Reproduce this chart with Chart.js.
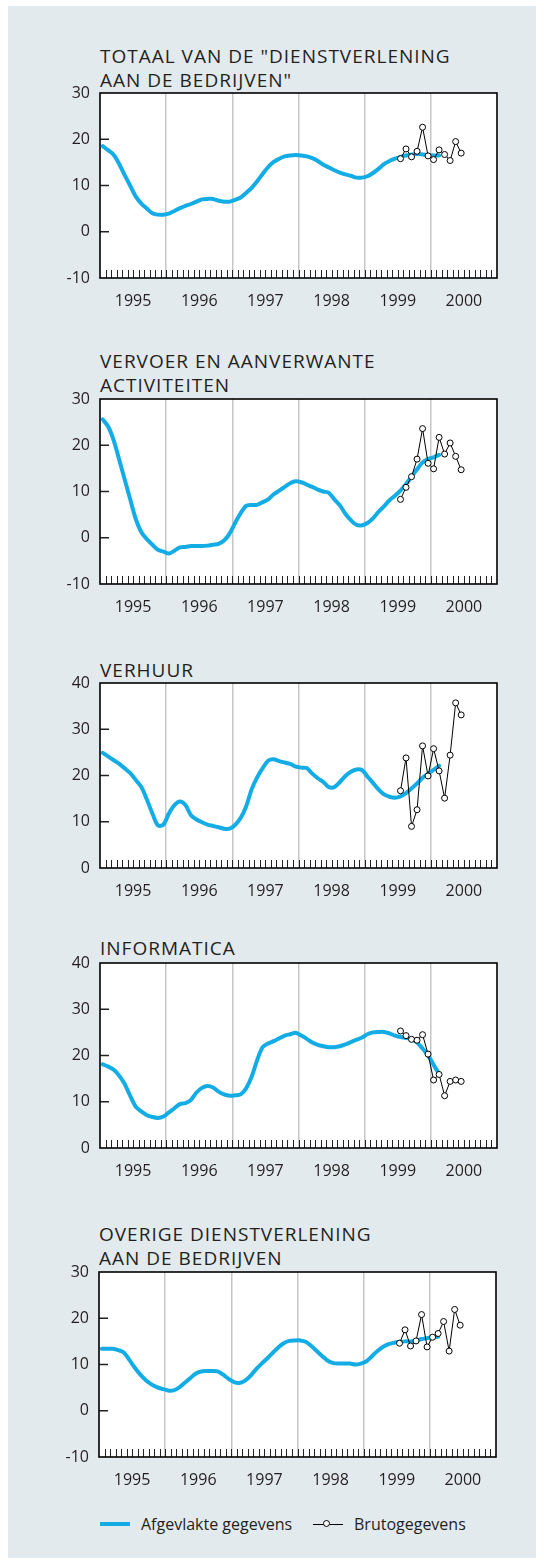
<!DOCTYPE html>
<html lang="nl">
<head>
<meta charset="utf-8">
<title>Dienstverlening aan de bedrijven</title>
<script src="https://cdn.jsdelivr.net/npm/chart.js@4/dist/chart.umd.min.js"></script>
<style>
    body { margin: 0; background: #fff; font-family: "Open Sans", sans-serif; color: #231f20; }
    #paneel { position: absolute; left: 8px; top: 6px; width: 528px; height: 1552px; background: #e3eaee; }
    .titel { position: absolute; font-size: 19px; line-height: 24px; letter-spacing: 1px; white-space: nowrap; }
    canvas { position: absolute; left: 0; }
    .leg { position: absolute; font-size: 16px; line-height: 20px; top: 1514px; white-space: nowrap; }
</style>
</head>
<body>
<div id="paneel"></div>
<div id="grafieken"></div>
<div style="position:absolute;left:100px;top:1522px;width:30px;height:4px;background:#14ace5"></div>
<div class="leg" style="left:141px">Afgevlakte gegevens</div>
<div style="position:absolute;left:313px;top:1524px;width:30px;height:1px;background:#000"></div>
<div style="position:absolute;left:323px;top:1520px;width:7px;height:7px;border:1px solid #000;border-radius:50%;background:#fff;box-sizing:border-box"></div>
<div class="leg" style="left:354px">Brutogegevens</div>

<script>
document.addEventListener('DOMContentLoaded', function () {
    // jaren op de x-as, maandgegevens vanaf januari 1995
    const jaren = ['1995', '1996', '1997', '1998', '1999', '2000'];
    const brutoStart = 54; // juli 1999

    const totaalAfgevlakt = [18.5, 17.6, 16.6, 14.6, 12.2, 9.9, 7.6, 6.1, 5.0, 4.0, 3.7, 3.7,
        3.9, 4.5, 5.1, 5.6, 6.0, 6.5, 7.0, 7.1, 7.1, 6.7, 6.5, 6.5,
        6.9, 7.4, 8.4, 9.5, 10.9, 12.5, 14.0, 15.1, 15.8, 16.3, 16.5, 16.6,
        16.5, 16.3, 15.9, 15.3, 14.5, 13.9, 13.3, 12.8, 12.4, 12.1, 11.7, 11.7,
        12.0, 12.7, 13.6, 14.6, 15.3, 15.8, 16.2, 16.5, 16.7, 16.8, 16.7, 16.6,
        16.5, 16.5];
    const totaalBruto = [15.8, 17.9, 16.2, 17.4, 22.6, 16.4, 15.6, 17.7, 16.7, 15.4, 19.5, 17.0];

    const vervoerAfgevlakt = [25.6, 24.0, 21.0, 16.8, 12.5, 8.2, 4.0, 1.2, -0.3, -1.5, -2.6, -3.0,
        -3.4, -2.8, -2.1, -2.0, -1.8, -1.8, -1.8, -1.7, -1.5, -1.3, -0.6, 0.9,
        3.2, 5.3, 6.9, 7.1, 7.1, 7.7, 8.3, 9.4, 10.2, 11.0, 11.8, 12.2,
        12.0, 11.5, 11.0, 10.4, 10.0, 9.7, 8.3, 7.0, 5.2, 3.8, 2.8, 2.7,
        3.2, 4.2, 5.6, 6.8, 8.1, 9.1, 10.2, 11.6, 13.2, 14.8, 16.3, 17.0,
        17.4, 17.9];
    const vervoerBruto = [8.3, 10.9, 13.2, 17.0, 23.6, 16.1, 14.9, 21.7, 18.1, 20.5, 17.6, 14.7];

    const verhuurAfgevlakt = [24.9, 24.1, 23.3, 22.5, 21.5, 20.5, 19.0, 17.5, 14.8, 11.8, 9.2, 9.4,
        11.8, 13.6, 14.4, 13.6, 11.4, 10.5, 9.9, 9.4, 9.1, 8.8, 8.5, 8.5,
        9.3, 10.8, 13.3, 17.0, 19.6, 21.6, 23.2, 23.5, 23.1, 22.8, 22.5, 21.9,
        21.7, 21.6, 20.4, 19.4, 18.6, 17.5, 17.5, 18.6, 19.9, 20.8, 21.3, 21.2,
        19.8, 18.4, 17.0, 15.9, 15.4, 15.2, 15.5, 16.2, 17.2, 18.3, 19.5, 20.4,
        21.2, 22.1];
    const verhuurBruto = [16.7, 23.8, 9.0, 12.6, 26.4, 19.9, 25.8, 21.0, 15.1, 24.4, 35.7, 33.1];

    const informaticaAfgevlakt = [18.1, 17.6, 16.9, 15.6, 13.8, 11.2, 8.9, 7.9, 7.1, 6.7, 6.5, 6.8,
        7.7, 8.6, 9.5, 9.7, 10.4, 12.0, 13.0, 13.4, 13.1, 12.2, 11.6, 11.3,
        11.4, 11.6, 12.9, 15.4, 19.0, 21.8, 22.6, 23.1, 23.7, 24.3, 24.6, 24.9,
        24.3, 23.6, 22.8, 22.3, 22.0, 21.8, 21.8, 22.0, 22.4, 22.9, 23.4, 23.9,
        24.6, 25.0, 25.1, 25.1, 24.8, 24.3, 24.0, 23.8, 23.5, 22.8, 21.5, 20.0,
        18.0, 16.0];
    const informaticaBruto = [25.3, 24.3, 23.5, 23.3, 24.5, 20.3, 14.7, 15.9, 11.3, 14.4, 14.7, 14.4];

    const overigeAfgevlakt = [13.4, 13.4, 13.4, 13.1, 12.6, 11.0, 9.3, 7.8, 6.6, 5.7, 5.1, 4.7,
        4.4, 4.4, 5.0, 6.0, 7.0, 8.0, 8.5, 8.6, 8.6, 8.5, 7.8, 6.9,
        6.2, 6.0, 6.5, 7.6, 9.0, 10.2, 11.3, 12.5, 13.7, 14.6, 15.1, 15.2,
        15.2, 14.9, 14.0, 12.9, 11.8, 10.8, 10.3, 10.2, 10.2, 10.2, 10.0, 10.2,
        10.7, 11.8, 12.9, 13.8, 14.4, 14.7, 14.9, 15.0, 15.0, 15.1, 15.5, 15.7,
        15.9, 16.0];
    const overigeBruto = [14.6, 17.5, 14.0, 15.1, 20.8, 13.8, 15.9, 16.7, 19.3, 12.9, 21.9, 18.5];

    const panelen = [
        { titel: ['TOTAAL VAN DE "DIENSTVERLENING', 'AAN DE BEDRIJVEN"'], afgevlakt: totaalAfgevlakt, bruto: totaalBruto, min: -10, max: 30 },
        { titel: ['VERVOER EN AANVERWANTE', 'ACTIVITEITEN'], afgevlakt: vervoerAfgevlakt, bruto: vervoerBruto, min: -10, max: 30 },
        { titel: ['VERHUUR'], afgevlakt: verhuurAfgevlakt, bruto: verhuurBruto, min: 0, max: 40 },
        { titel: ['INFORMATICA'], afgevlakt: informaticaAfgevlakt, bruto: informaticaBruto, min: 0, max: 40 },
        { titel: ['OVERIGE DIENSTVERLENING', 'AAN DE BEDRIJVEN'], afgevlakt: overigeAfgevlakt, bruto: overigeBruto, min: -10, max: 30 }
    ];

    // plaatsing op de pagina
    const plotTop = [93, 399, 683, 963, 1272];
    const titelTop = [43.5, 348.5, 657.5, 935.5, 1221.5];
    const plotLinks = [100, 100, 100, 100, 99];
    const plotRechts = [497, 497, 497, 497, 496];
    const plotHoogte = 185;

    // witte plotvlak, kader, maandstreepjes en korte streepjes op de y-as
    const kaderPlugin = {
        id: 'kader',
        beforeDraw(chart) {
            const { ctx, chartArea: a } = chart;
            ctx.save();
            ctx.fillStyle = '#fff';
            ctx.fillRect(a.left, a.top, a.right - a.left, a.bottom - a.top);
            ctx.restore();
        },
        afterDraw(chart) {
            const { ctx, chartArea: a } = chart;
            const x = chart.scales.x, y = chart.scales.y;
            ctx.save();
            ctx.strokeStyle = '#222';
            ctx.lineWidth = 1;
            for (let m = 1; m < 72; m++) {
                const px = Math.round(x.getPixelForValue(m)) + 0.5;
                ctx.beginPath();
                ctx.moveTo(px, a.bottom);
                ctx.lineTo(px, a.bottom - 8);
                ctx.stroke();
            }
            ctx.lineWidth = 1.5;
            y.ticks.forEach(t => {
                if (t.value <= y.min || t.value >= y.max) return;
                const py = y.getPixelForValue(t.value);
                ctx.beginPath();
                ctx.moveTo(a.left, py);
                ctx.lineTo(a.left + 9, py);
                ctx.stroke();
            });
            ctx.strokeStyle = '#000';
            ctx.lineWidth = 1.6;
            ctx.strokeRect(a.left, a.top, a.right - a.left, a.bottom - a.top);
            ctx.restore();
        }
    };

    const container = document.getElementById('grafieken');

    panelen.forEach((p, k) => {
        const titel = document.createElement('div');
        titel.className = 'titel';
        titel.style.left = plotLinks[k] + 'px';
        titel.style.top = titelTop[k] + 'px';
        titel.innerHTML = p.titel.join('<br>');
        container.appendChild(titel);

        const canvas = document.createElement('canvas');
        canvas.width = 544;
        canvas.height = plotHoogte + 50;
        canvas.style.top = (plotTop[k] - 10) + 'px';
        container.appendChild(canvas);

        const afgevlakt = p.afgevlakt.map((v, i) => ({ x: i + 0.5, y: v }));
        const bruto = p.bruto.map((v, i) => ({ x: brutoStart + i + 0.5, y: v }));

        new Chart(canvas.getContext('2d'), {
            type: 'line',
            data: {
                datasets: [{
                    label: 'Brutogegevens',
                    data: bruto,
                    borderColor: '#000',
                    borderWidth: 1,
                    pointRadius: 3,
                    pointBackgroundColor: '#fff',
                    pointBorderColor: '#000',
                    pointBorderWidth: 1,
                    tension: 0
                }, {
                    label: 'Afgevlakte gegevens',
                    data: afgevlakt,
                    borderColor: '#14ace5',
                    borderWidth: 4,
                    pointRadius: 0,
                    borderCapStyle: 'round',
                    borderJoinStyle: 'round',
                    tension: 0.3
                }]
            },
            options: {
                responsive: false,
                animation: false,
                devicePixelRatio: 1,
                layout: {
                    padding: { left: 0, right: 544 - plotRechts[k], top: 10, bottom: 0 }
                },
                scales: {
                    x: {
                        type: 'linear',
                        min: 0,
                        max: 72,
                        afterFit: s => { s.height = 40; },
                        grid: {
                            drawTicks: false,
                            lineWidth: 1.5,
                            color: c => (c.tick && c.tick.value % 12 === 0 && c.tick.value > 0 && c.tick.value < 72) ? '#c6c6c6' : 'rgba(0,0,0,0)'
                        },
                        border: { display: false },
                        ticks: {
                            stepSize: 6,
                            autoSkip: false,
                            maxRotation: 0,
                            padding: 14,
                            color: '#231f20',
                            font: { family: 'Open Sans', size: 16 },
                            callback: v => {
                                const m = Math.round(v);
                                return m % 12 === 6 ? jaren[(m - 6) / 12] : '';
                            }
                        }
                    },
                    y: {
                        min: p.min,
                        max: p.max,
                        // geen extra ruimte boven/onder voor de labels, die zit al in de canvas
                        afterFit: s => { s.width = plotLinks[k]; s.paddingTop = 0; s.paddingBottom = 0; },
                        grid: { display: false, drawTicks: false },
                        border: { display: false },
                        ticks: {
                            stepSize: 10,
                            padding: 10,
                            color: '#231f20',
                            font: { family: 'Open Sans', size: 16 }
                        }
                    }
                },
                plugins: {
                    legend: { display: false },
                    tooltip: { enabled: false }
                }
            },
            plugins: [kaderPlugin]
        });
    });
});
</script>
</body>
</html>
